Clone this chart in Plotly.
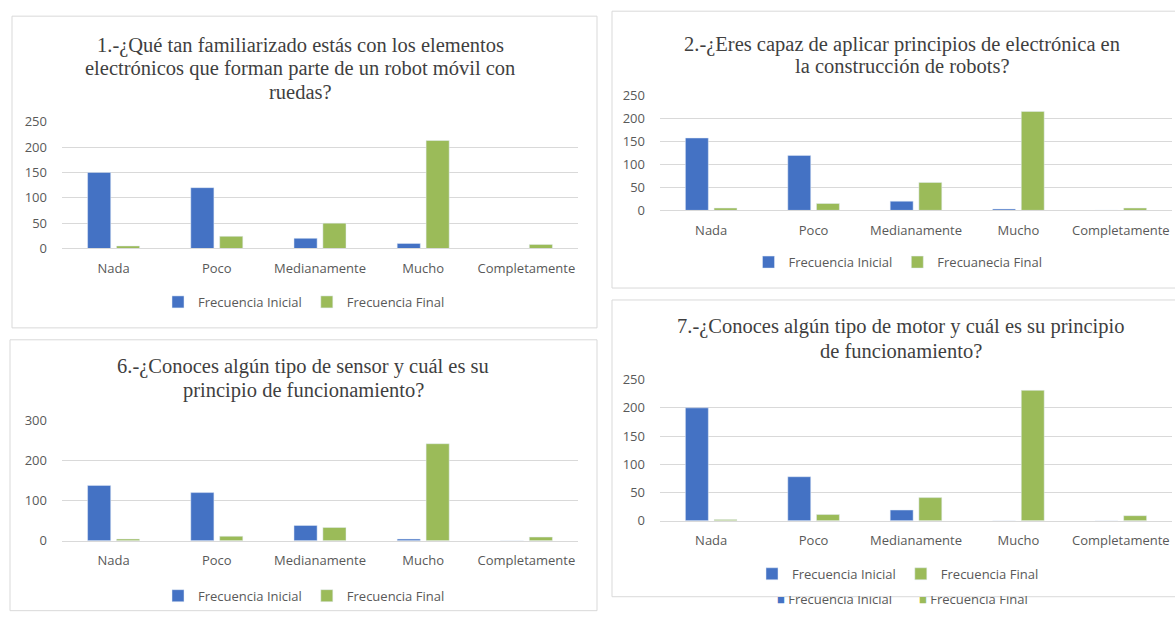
import plotly.graph_objects as go

W, H = 1175, 619

categories = ["Nada", "Poco", "Medianamente", "Mucho", "Completamente"]

q1_inicial = [150, 120, 20, 10, 0]
q1_final = [5, 24, 50, 213, 8]
q2_inicial = [158, 120, 20, 3, 0]
q2_final = [5, 15, 61, 216, 5]
q6_inicial = [138, 120, 38, 4, 0]
q6_final = [4, 11, 33, 242, 9]
q7_inicial = [200, 78, 19, 0, 0]
q7_final = [2, 11, 41, 231, 9]

title_lines = [
    ["1.-¿Qué tan familiarizado estás con los elementos",
     "electrónicos que forman parte de un robot móvil con",
     "ruedas?"],
    ["2.-¿Eres capaz de aplicar principios de electrónica en",
     "la construcción de robots?"],
    ["6.-¿Conoces algún tipo de sensor y cuál es su",
     "principio de funcionamiento?"],
    ["7.-¿Conoces algún tipo de motor y cuál es su principio",
     "de funcionamiento?"],
]
name_inicial = ["Frecuencia Inicial"] * 4
name_final = ["Frecuencia Final", "Frecuanecia Final", "Frecuencia Final", "Frecuencia Final"]
y_max = [250, 250, 300, 250]
y_step = [50, 50, 100, 50]

inicial = [q1_inicial, q2_inicial, q6_inicial, q7_inicial]
final = [q1_final, q2_final, q6_final, q7_final]

# layout geometry in target pixels
panels = [(12, 597, 15, 328), (612, 1190, 10, 288), (10, 597, 340, 612), (612, 1190, 300, 598)]
areas = [(62, 578, 121, 248.3), (660, 1172, 95, 210), (62, 578, 421, 541.7), (660, 1172, 380, 521.7)]
title_x = [300, 902, 303, 901]
title_y = [[44, 68, 91], [43, 65], [367, 391], [327, 351]]
legend_pos = [(304, 302), (898, 262), (304, 597), (898, 575)]

BLUE = "#4472C4"
GREEN = "#9BBB59"
GRID = "#D9D9D9"
TXT = "#595959"
TITLE = "#3F3F3F"

def px(x):
    return x / W

def py(y):
    # compensate for the vertical offset/scale seen in the captured page
    return 1 - ((y - 7.8) / 0.975) / H

fig = go.Figure()
shapes = []
annotations = []
layout = {}

for i in range(4):
    k = i + 1
    xa = "x" if k == 1 else f"x{k}"
    ya = "y" if k == 1 else f"y{k}"
    lg = "legend" if k == 1 else f"legend{k}"
    fig.add_trace(go.Bar(x=categories, y=inicial[i], name=name_inicial[i], marker_color=BLUE,
                         xaxis=xa, yaxis=ya, legend=lg))
    fig.add_trace(go.Bar(x=categories, y=final[i], name=name_final[i], marker_color=GREEN,
                         xaxis=xa, yaxis=ya, legend=lg))
    ax0, ax1, ay0, ay1 = areas[i]
    xkey = "xaxis" if k == 1 else f"xaxis{k}"
    ykey = "yaxis" if k == 1 else f"yaxis{k}"
    layout[xkey] = dict(domain=[px(ax0), px(ax1)], anchor=ya, showgrid=False, showline=True,
                        linecolor=GRID, linewidth=1, ticks="",
                        tickfont=dict(family="Open Sans", size=13, color=TXT),
                        ticklabelstandoff=8, fixedrange=True)
    layout[ykey] = dict(domain=[py(ay1), py(ay0)], anchor=xa, range=[0, y_max[i]], tick0=0,
                        dtick=y_step[i], showgrid=True, gridcolor=GRID, gridwidth=1, zeroline=False,
                        showline=False, ticks="",
                        tickfont=dict(family="Open Sans", size=13, color=TXT), ticklabelstandoff=14)
    lx, ly = legend_pos[i]
    layout[lg] = dict(orientation="h", x=px(lx), y=py(ly), xanchor="center", yanchor="middle",
                      font=dict(family="Open Sans", size=13, color=TXT), bgcolor="rgba(0,0,0,0)",
                      itemwidth=30, itemclick=False, itemdoubleclick=False)
    p = panels[i]
    shapes.append(dict(type="rect", xref="paper", yref="paper", x0=px(p[0]), x1=px(p[1]),
                       y0=py(p[3]), y1=py(p[2]), line=dict(color=GRID, width=1),
                       fillcolor="rgba(0,0,0,0)", layer="below"))
    for line, ty in zip(title_lines[i], title_y[i]):
        annotations.append(dict(text=line, xref="paper", yref="paper", x=px(title_x[i]), y=py(ty),
                                xanchor="center", yanchor="middle", showarrow=False,
                                font=dict(family="Liberation Serif", size=20.5, color=TITLE)))

# partially hidden legend remnant below the last panel
annotations.append(dict(
    text=f"<span style='color:{BLUE}'>■</span> {name_inicial[3]}        "
         f"<span style='color:{GREEN}'>■</span> {name_final[3]}",
    xref="paper", yref="paper", x=px(902), y=py(600), xanchor="center", yanchor="middle",
    showarrow=False, font=dict(family="Open Sans", size=13, color=TXT)))
annotations.append(dict(text=" ", xref="paper", yref="paper", x=px(902), y=py(592.5),
                        xanchor="center", yanchor="middle", showarrow=False, width=330, height=9,
                        borderpad=0, borderwidth=0, bgcolor="white", font=dict(size=4)))

fig.update_layout(**layout)
fig.update_layout(width=W, height=H, margin=dict(l=0, r=0, t=0, b=0), paper_bgcolor="white",
                  plot_bgcolor="white", barmode="group", bargap=0.44, bargroupgap=0.2,
                  shapes=shapes, annotations=annotations, showlegend=True)

fig.write_html("out.html", config={"displayModeBar": False})
